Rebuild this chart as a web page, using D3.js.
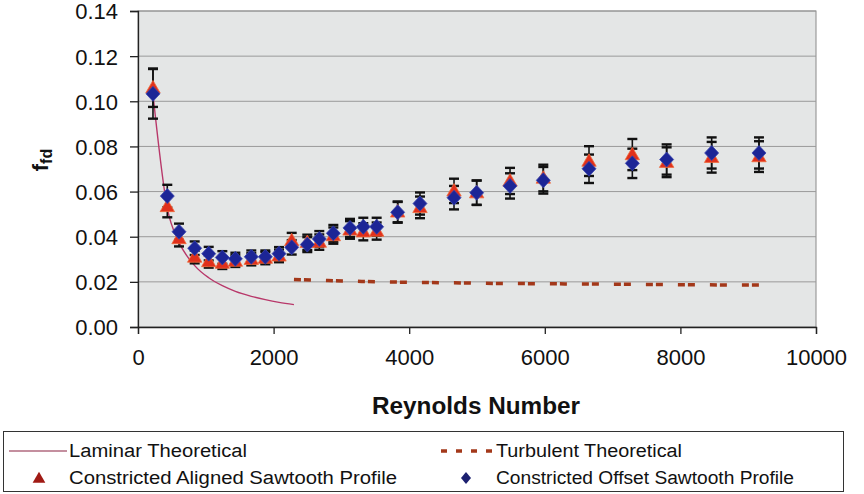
<!DOCTYPE html>
<html><head><meta charset="utf-8">
<script src="https://cdn.jsdelivr.net/npm/d3@7"></script>
<style>
html,body{margin:0;padding:0;background:#fff;}
svg{display:block;font-family:"Liberation Sans",Arial,sans-serif;}
</style></head>
<body><svg id="chart" width="864" height="494"></svg>
<script>
// ---- data ----
const reynolds = [221, 432, 605, 836, 1043, 1244, 1436, 1671, 1878, 2080, 2267, 2497, 2674, 2881, 3127, 3323, 3520, 3830, 4159, 4661, 4995, 5487, 5978, 6652, 7291, 7797, 8461, 9159];
const offsetF  = [0.1033, 0.0580, 0.0422, 0.0349, 0.0325, 0.0308, 0.0302, 0.0311, 0.0311, 0.0325, 0.0353, 0.0365, 0.0390, 0.0415, 0.0439, 0.0444, 0.0444, 0.0508, 0.0547, 0.0573, 0.0595, 0.0625, 0.0650, 0.0701, 0.0725, 0.0742, 0.0771, 0.0771];
const offsetErr = [0.0110, 0.0050, 0.0036, 0.0030, 0.0030, 0.0028, 0.0027, 0.0028, 0.0028, 0.0029, 0.0032, 0.0033, 0.0035, 0.0037, 0.0040, 0.0040, 0.0040, 0.0046, 0.0049, 0.0052, 0.0054, 0.0056, 0.0059, 0.0063, 0.0065, 0.0067, 0.0069, 0.0069];
const alignedF = [0.1060, 0.0534, 0.0392, 0.0310, 0.0290, 0.0283, 0.0292, 0.0300, 0.0305, 0.0315, 0.0383, 0.0375, 0.0376, 0.0405, 0.0430, 0.0422, 0.0425, 0.0510, 0.0530, 0.0603, 0.0595, 0.0647, 0.0660, 0.0735, 0.0764, 0.0730, 0.0752, 0.0755];
const alignedErr = [0.0085, 0.0048, 0.0035, 0.0028, 0.0027, 0.0026, 0.0026, 0.0027, 0.0027, 0.0028, 0.0034, 0.0034, 0.0034, 0.0036, 0.0039, 0.0038, 0.0038, 0.0046, 0.0048, 0.0054, 0.0054, 0.0058, 0.0059, 0.0066, 0.0069, 0.0066, 0.0068, 0.0068];
const laminarRe = [221, 432, 605, 836, 1043, 1244, 1436, 1671, 1878, 2080, 2300];
const laminarF  = [0.1030, 0.0527, 0.0376, 0.0272, 0.0218, 0.0183, 0.0158, 0.0136, 0.0121, 0.0109, 0.0099];
const turbRe = [2300, 2800, 3300, 3800, 4300, 4800, 5300, 5800, 6300, 6800, 7300, 7800, 8300, 8800, 9200];
const turbF  = [0.0210, 0.0206, 0.0202, 0.0199, 0.0197, 0.0195, 0.0193, 0.0192, 0.0191, 0.0190, 0.0189, 0.0188, 0.0187, 0.0186, 0.0186];
const xTicks = [0, 2000, 4000, 6000, 8000, 10000];
const yTicks = [0.00, 0.02, 0.04, 0.06, 0.08, 0.10, 0.12, 0.14];
const legendLabels = ["Laminar Theoretical", "Turbulent Theoretical", "Constricted Aligned Sawtooth Profile", "Constricted Offset Sawtooth Profile"];

// ---- layout ----
const svg = d3.select("#chart");
const L = 138, R = 816, T = 11, B = 327;
const x = d3.scaleLinear().domain([0, 10000]).range([L, R]);
const y = d3.scaleLinear().domain([0, 0.14]).range([B, T]);

svg.append("rect").attr("x", L).attr("y", T).attr("width", R - L).attr("height", B - T)
  .attr("fill", "#e4e6e6").attr("stroke", "#8a8a8a").attr("stroke-width", 1);

// gridlines
svg.append("g").selectAll("line").data(yTicks.slice(1)).join("line")
  .attr("x1", L).attr("x2", R).attr("y1", d => y(d)).attr("y2", d => y(d))
  .attr("stroke", "#9a9a9a").attr("stroke-width", 1);

// axes
const xAxis = svg.append("g").attr("transform", `translate(0,${B})`)
  .call(d3.axisBottom(x).tickValues(xTicks).tickFormat(d3.format("d")).tickSize(7).tickPadding(15));
const yAxis = svg.append("g").attr("transform", `translate(${L},0)`)
  .call(d3.axisLeft(y).tickValues(yTicks).tickFormat(d3.format(".2f")).tickSize(8).tickPadding(12));
[xAxis, yAxis].forEach(a => {
  a.select(".domain").attr("stroke", "#222").attr("stroke-width", 1.3);
  a.selectAll(".tick line").attr("stroke", "#222").attr("stroke-width", 1.3);
  a.selectAll(".tick text").attr("fill", "#111").attr("font-size", 22)
    .attr("font-family", "'Liberation Sans', Arial, sans-serif");
});
yAxis.selectAll(".tick text").attr("dy", "0.36em");

// axis titles
svg.append("text").attr("x", (L + R) / 2 - 1).attr("y", 414).attr("text-anchor", "middle")
  .attr("font-size", 23).attr("font-weight", "bold").attr("fill", "#111")
  .attr("textLength", 208).attr("lengthAdjust", "spacingAndGlyphs").text("Reynolds Number");
const yt = svg.append("text").attr("transform", "translate(48,160) rotate(-90)").attr("text-anchor", "middle")
  .attr("font-weight", "bold").attr("fill", "#111");
yt.append("tspan").attr("font-size", 22).text("f");
yt.append("tspan").attr("font-size", 16).attr("dy", 4).text("fd");

// laminar
const line = d3.line().x(d => x(d[0])).y(d => y(d[1])).curve(d3.curveMonotoneX);
svg.append("path").datum(laminarRe.map((r, i) => [r, laminarF[i]]))
  .attr("d", line).attr("fill", "none").attr("stroke", "#b8386a").attr("stroke-width", 1.4);

// turbulent
svg.append("path").datum(turbRe.map((r, i) => [r, turbF[i]]))
  .attr("d", d3.line().x(d => x(d[0])).y(d => y(d[1])))
  .attr("fill", "none").attr("stroke", "#a3381a").attr("stroke-width", 3.5)
  .attr("stroke-dasharray", "7,3,7,15");

// error bars
function errBars(vals, errs) {
  const g = svg.append("g").attr("stroke", "#111").attr("stroke-width", 1.6);
  reynolds.forEach((r, i) => {
    const cx = x(r), y1 = y(vals[i] + errs[i]), y2 = y(vals[i] - errs[i]);
    g.append("line").attr("x1", cx).attr("x2", cx).attr("y1", y1).attr("y2", y2);
    g.append("line").attr("x1", cx - 5).attr("x2", cx + 5).attr("y1", y1).attr("y2", y1).attr("stroke-width", 2.4);
    g.append("line").attr("x1", cx - 5).attr("x2", cx + 5).attr("y1", y2).attr("y2", y2).attr("stroke-width", 2.4);
  });
}
errBars(alignedF, alignedErr);
errBars(offsetF, offsetErr);

// markers
const tri = d3.symbol().type(d3.symbolTriangle).size(90);
svg.append("g").selectAll("path").data(reynolds).join("path")
  .attr("d", tri).attr("transform", (d, i) => `translate(${x(d)},${y(alignedF[i]) + 1})`)
  .attr("fill", "#e0301c").attr("stroke", "#f06a3a").attr("stroke-width", 0.8);
svg.append("g").selectAll("path").data(reynolds).join("path")
  .attr("d", "M0,-7.5L7,0L0,7.5L-7,0Z").attr("transform", (d, i) => `translate(${x(d)},${y(offsetF[i])})`)
  .attr("fill", "#1c2596").attr("stroke", "#3a45b0").attr("stroke-width", 0.8);

// legend
const lg = svg.append("g");
lg.append("rect").attr("x", 3.5).attr("y", 431.5).attr("width", 840).attr("height", 60)
  .attr("fill", "#fff").attr("stroke", "#333").attr("stroke-width", 1);
const fs = 18;
const rows = [451, 478];
lg.append("line").attr("x1", 9).attr("x2", 67).attr("y1", rows[0]).attr("y2", rows[0])
  .attr("stroke", "#8a2040").attr("stroke-width", 1.2);
lg.append("line").attr("x1", 441).attr("x2", 492).attr("y1", rows[0]).attr("y2", rows[0])
  .attr("stroke", "#a3381a").attr("stroke-width", 3.5).attr("stroke-dasharray", "6,9");
lg.append("path").attr("d", tri.size(70)).attr("transform", `translate(39,${rows[1] + 1})`).attr("fill", "#a01a14");
lg.append("path").attr("d", "M0,-6L5,0L0,6L-5,0Z").attr("transform", `translate(466,${rows[1]})`).attr("fill", "#1c2070");
const lt = [[69, rows[0], 178], [496, rows[0], 186], [69, rows[1], 328], [496, rows[1], 298]];
legendLabels.forEach((t, i) => {
  lg.append("text").attr("x", lt[i][0]).attr("y", lt[i][1]).attr("dy", "0.35em")
    .attr("font-size", fs).attr("fill", "#111")
    .attr("textLength", lt[i][2]).attr("lengthAdjust", "spacingAndGlyphs").text(t);
});
</script></body></html>
